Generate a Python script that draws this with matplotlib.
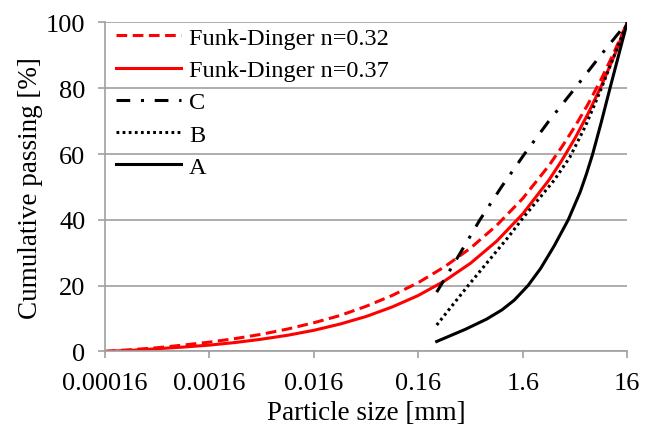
import matplotlib
matplotlib.use("Agg")
import matplotlib.pyplot as plt
from matplotlib.ticker import FixedLocator, FixedFormatter, NullLocator

plt.rcParams['font.family'] = ['Liberation Serif', 'DejaVu Serif']

# Funk-Dinger curves
fd_size = [0.00016, 0.000285, 0.000506, 0.0009, 0.0016, 0.00285, 0.00506, 0.009,
           0.016, 0.0285, 0.0506, 0.09, 0.16, 0.285, 0.506, 0.9, 1.6, 2.85, 3.79,
           5.06, 6.75, 9.0, 12.0, 16.0]
fd032 = [0.0, 0.5, 1.1, 1.9, 2.8, 3.9, 5.2, 6.8, 8.7, 10.9, 13.7, 17.0, 20.9, 25.7,
         31.4, 38.3, 46.5, 56.5, 62.2, 68.4, 75.2, 82.7, 91.0, 100.0]
fd037 = [0.0, 0.3, 0.8, 1.3, 1.9, 2.7, 3.7, 4.9, 6.4, 8.3, 10.6, 13.5, 17.0, 21.4,
         26.8, 33.5, 41.8, 52.1, 58.1, 64.8, 72.3, 80.6, 89.8, 100.0]

# Measured gradings
c_size = [0.24, 0.319, 0.451, 0.622, 1.01, 1.66, 2.84, 5.06, 9.0, 16.0]
c_pass = [18.0, 24.5, 32.5, 40.0, 50.2, 60.0, 70.0, 80.0, 90.2, 100.0]

b_size = [0.24, 0.32, 0.48, 0.9, 1.16, 1.6, 2.34, 3.19, 4.51, 6.37, 8.79, 11.86, 16.0]
b_pass = [8.0, 13.0, 20.0, 30.5, 34.7, 40.5, 46.8, 52.0, 59.0, 68.5, 79.0, 89.5, 100.0]

a_size = [0.24, 0.451, 0.721, 1.01, 1.33, 1.795, 2.37, 3.19, 4.36, 5.68, 6.52, 7.47,
          9.0, 10.94, 13.3, 16.0]
a_pass = [3.0, 6.7, 9.8, 12.6, 15.6, 20.0, 25.2, 32.0, 40.0, 48.5, 54.0, 60.0,
          69.5, 80.0, 90.3, 100.0]

x_ticks = [0.00016, 0.0016, 0.016, 0.16, 1.6, 16]
x_labels = ["0.00016", "0.0016", "0.016", "0.16", "1.6", "16"]
y_ticks = [0, 20, 40, 60, 80, 100]

fig = plt.figure(figsize=(6.52, 4.35), dpi=100)
ax = fig.add_axes([0.161, 0.190, 0.801, 0.756])

lw = 2.2
ax.plot(fd_size, fd032, color='#ff0000', lw=lw, linestyle=(0, (3.5, 1.8)), label='Funk-Dinger n=0.32')
ax.plot(fd_size, fd037, color='#ff0000', lw=lw, linestyle='-', label='Funk-Dinger n=0.37')
ax.plot(c_size, c_pass, color='black', lw=lw, linestyle=(0, (4.5, 3.5, 1, 3.5)), label='C')
ax.plot(b_size, b_pass, color='black', lw=lw, linestyle=(0, (0.9, 1.1)), label='B')
ax.plot(a_size, a_pass, color='black', lw=lw, linestyle='-', label='A')

ax.set_xscale('log')
ax.set_xlim(0.00016, 16)
ax.set_ylim(0, 100)
ax.xaxis.set_major_locator(FixedLocator(x_ticks))
ax.xaxis.set_major_formatter(FixedFormatter(x_labels))
ax.xaxis.set_minor_locator(NullLocator())
ax.set_yticks(y_ticks)

grid_c = '#a0a0a0'
ax.grid(axis='y', color=grid_c, lw=1.2)
ax.set_axisbelow(True)
for s in ['top', 'right']:
    ax.spines[s].set_visible(False)
for s in ['left', 'bottom']:
    ax.spines[s].set_color(grid_c)
    ax.spines[s].set_linewidth(1.2)
ax.tick_params(axis='both', colors=grid_c, length=5, width=1.2, labelsize=19, labelcolor='black')
ax.tick_params(axis='x', pad=10)
ax.tick_params(axis='y', pad=9)

ax.set_xlabel('Particle size [mm]', fontsize=19.5, labelpad=4)
ax.set_ylabel('Cumulative passing [%]', fontsize=19.5, labelpad=2)

leg = ax.legend(loc='upper left', bbox_to_anchor=(0.0, 1.02), frameon=False, fontsize=17.5,
                handlelength=2.67, handletextpad=0.34, labelspacing=0.42, borderaxespad=0.0,
                borderpad=0.45)

fig.savefig('out.png', dpi=100)
